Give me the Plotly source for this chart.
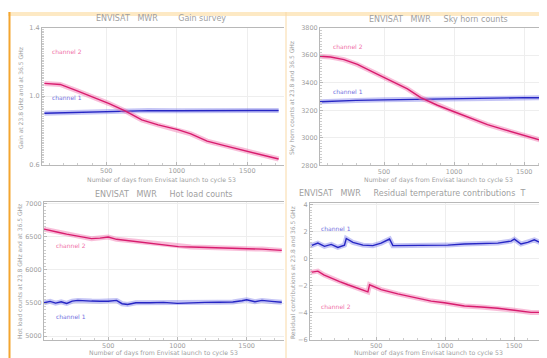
import plotly.graph_objects as go

W, H = 547, 358

# ---------------- data ----------------
# Panel 1: Gain survey
gain_days_ch2 = [62, 174, 290, 428, 521, 637, 752, 868, 1007, 1100, 1215, 1331, 1493, 1632, 1722]
gain_ch2 = [1.074, 1.068, 1.032, 0.989, 0.956, 0.912, 0.861, 0.832, 0.804, 0.779, 0.737, 0.712, 0.680, 0.651, 0.632]
gain_days_ch1 = [62, 200, 400, 600, 800, 1000, 1200, 1400, 1600, 1722]
gain_ch1 = [0.900, 0.903, 0.908, 0.913, 0.915, 0.914, 0.915, 0.915, 0.916, 0.916]

# Panel 2: Sky horn counts
sky_days_ch2 = [43, 119, 214, 310, 429, 548, 667, 762, 881, 1000, 1119, 1238, 1357, 1476, 1595, 1719]
sky_ch2 = [3592, 3587, 3568, 3533, 3474, 3415, 3356, 3292, 3237, 3190, 3143, 3096, 3060, 3025, 2989, 2954]
sky_days_ch1 = [43, 150, 300, 500, 700, 900, 1000, 1200, 1400, 1500, 1600, 1719]
sky_ch1 = [3262, 3268, 3272, 3276, 3280, 3283, 3286, 3287, 3290, 3292, 3291, 3290]

# Panel 3: Hot load counts
hot_days_ch2 = [36, 80, 138, 200, 258, 320, 379, 440, 500, 560, 621, 742, 862, 1007, 1100, 1225, 1350, 1466, 1611, 1754]
hot_ch2 = [6616, 6600, 6568, 6540, 6520, 6495, 6472, 6480, 6496, 6462, 6448, 6424, 6390, 6352, 6345, 6338, 6332, 6328, 6314, 6295]
hot_days_ch1 = [36, 80, 120, 160, 200, 240, 280, 330, 380, 440, 500, 560, 600, 640, 700, 800, 900, 1000, 1100, 1200, 1300, 1400, 1466, 1500, 1560, 1611, 1680, 1754]
hot_ch1 = [5505, 5525, 5500, 5520, 5495, 5530, 5540, 5530, 5530, 5528, 5528, 5540, 5490, 5478, 5505, 5505, 5510, 5495, 5505, 5510, 5512, 5515, 5535, 5550, 5520, 5540, 5525, 5512]

# Panel 4: Residual temperature contributions
res_days_ch2 = [24, 77, 120, 174, 235, 295, 350, 415, 440, 452, 536, 657, 778, 899, 995, 1140, 1261, 1382, 1502, 1623, 1744]
res_ch2 = [-1.02, -0.93, -1.20, -1.46, -1.70, -1.94, -2.15, -2.38, -2.47, -1.94, -2.30, -2.62, -2.91, -3.15, -3.27, -3.51, -3.59, -3.68, -3.83, -3.99, -3.99]
res_days_ch1 = [24, 77, 125, 174, 222, 270, 283, 331, 404, 476, 536, 572, 597, 621, 657, 778, 899, 1019, 1140, 1261, 1382, 1478, 1502, 1550, 1599, 1647, 1720, 1744]
res_ch1 = [0.95, 1.15, 0.91, 1.05, 0.83, 1.00, 1.49, 1.20, 1.00, 0.96, 1.15, 1.32, 1.45, 0.96, 0.96, 0.96, 1.00, 1.00, 1.08, 1.12, 1.15, 1.30, 1.44, 1.08, 1.20, 1.39, 1.05, 1.00]

x_ticks = [500, 1000, 1500]
gain_ticks = [0.6, 1.0, 1.4]
gain_tick_text = ["0.6", "1.0", "1.4"]
sky_ticks = [2800, 3000, 3200, 3400, 3600, 3800]
hot_ticks = [5000, 5500, 6000, 6500, 7000]
res_ticks = [-6, -4, -2, 0, 2, 4]

PINK, PINK_HALO = "#d81c6e", "rgba(240,110,170,0.45)"
BLUE, BLUE_HALO = "#2626c4", "rgba(110,110,230,0.40)"
GRAY = "#a0a0a0"
FONT = "DejaVu Sans"


def px(x0, x1):
    return [x0 / W, min(x1 / W, 1.0)]


def py(top, bottom):
    return [1 - bottom / H, 1 - top / H]


panels = [
    dict(xd=px(34, 276), yd=py(16, 156), xr=[45, 1760], yr=[0.6, 1.4], yt=gain_ticks, ytt=gain_tick_text,
         mirror_y=False, ch2=(gain_days_ch2, gain_ch2), ch1=(gain_days_ch1, gain_ch1)),
    dict(xd=px(312, 547), yd=py(16, 157), xr=[43, 1720], yr=[2800, 3800], yt=sky_ticks, ytt=None,
         mirror_y=False, ch2=(sky_days_ch2, sky_ch2), ch1=(sky_days_ch1, sky_ch1)),
    dict(xd=px(36, 276), yd=py(194, 335), xr=[36, 1770], yr=[4950, 7030], yt=hot_ticks, ytt=None,
         mirror_y=False, ch2=(hot_days_ch2, hot_ch2), ch1=(hot_days_ch1, hot_ch1)),
    dict(xd=px(302, 543), yd=py(195, 335), xr=[20, 1768], yr=[-6, 4.15], yt=res_ticks, ytt=None,
         mirror_y=True, ch2=(res_days_ch2, res_ch2), ch1=(res_days_ch1, res_ch1)),
]

fig = go.Figure()
layout = {}
for i, p in enumerate(panels, start=1):
    xa = "x" if i == 1 else f"x{i}"
    ya = "y" if i == 1 else f"y{i}"
    for (xs, ys), core, halo in [(p["ch1"], BLUE, BLUE_HALO), (p["ch2"], PINK, PINK_HALO)]:
        fig.add_trace(go.Scatter(x=xs, y=ys, mode="lines", line=dict(color=halo, width=5),
                                 xaxis=xa, yaxis=ya, hoverinfo="skip", showlegend=False))
        fig.add_trace(go.Scatter(x=xs, y=ys, mode="lines", line=dict(color=core, width=1.4),
                                 xaxis=xa, yaxis=ya, showlegend=False))
    axis_common = dict(showline=True, linecolor="#b8b8b8", linewidth=1, ticks="inside", ticklen=3,
                       tickcolor="#b8b8b8", showgrid=True, gridcolor="#eeeeee", gridwidth=1,
                       zeroline=False, tickfont=dict(family=FONT, size=6.5, color=GRAY))
    layout[f"xaxis{'' if i == 1 else i}"] = dict(
        domain=p["xd"], range=p["xr"], anchor=ya, tickvals=x_ticks, mirror=True,
        minor=dict(ticks="inside", ticklen=2, dtick=100, tickcolor="#cccccc"), **axis_common)
    yax = dict(domain=p["yd"], range=p["yr"], anchor=xa, tickvals=p["yt"], mirror=p["mirror_y"],
               minor=dict(ticks="inside", ticklen=2, nticks=20, tickcolor="#cccccc"), **axis_common)
    if p["ytt"] is not None:
        yax["ticktext"] = p["ytt"]
    layout[f"yaxis{'' if i == 1 else i}"] = yax

fig.update_layout(**layout)
fig.update_layout(width=W, height=H, margin=dict(l=0, r=0, t=0, b=0),
                  paper_bgcolor="white", plot_bgcolor="white")

ann = []


def text(x, y, s, size=7.5, color=GRAY, angle=0, xanchor="center"):
    ann.append(dict(x=x / W, y=1 - y / H, xref="paper", yref="paper", text=s, showarrow=False,
                    font=dict(family=FONT, size=size, color=color), textangle=angle,
                    xanchor=xanchor, yanchor="middle"))


# titles
text(153, 7, "ENVISAT   MWR        Gain survey", 8)
text(430, 8, "ENVISAT   MWR     Sky horn counts", 8)
text(156, 187, "ENVISAT   MWR     Hot load counts", 8)
text(289, 186, "ENVISAT   MWR     Residual temperature contributions  T", 8, xanchor="left")
# x titles
xt = "Number of days from Envisat launch to cycle 53"
text(153, 172, xt, 6.2)
text(430, 172, xt, 6.2)
text(155, 349, xt, 6.2)
text(420, 349, xt, 6.2)
# y titles
text(12, 88, "Gain at 23.8 GHz and at 36.5 GHz", 6, angle=-90)
text(284, 88, "Sky horn counts at 23.8 and 36.5 GHz", 6, angle=-90)
text(11, 266, "Hot load counts at 23.8 GHz and at 36.5 GHz", 6, angle=-90)
text(284, 266, "Residual contributions at 23.8 and 36.5 GHz", 6, angle=-90)
# channel labels
text(42, 40, "channel 2", 6, "#f070a8", xanchor="left")
text(42, 87, "channel 1", 6, "#7070e0", xanchor="left")
text(323, 35, "channel 2", 6, "#f070a8", xanchor="left")
text(323, 81, "channel 1", 6, "#7070e0", xanchor="left")
text(46, 239, "channel 2", 6, "#f070a8", xanchor="left")
text(46, 311, "channel 1", 6, "#7070e0", xanchor="left")
text(311, 221, "channel 1", 6, "#7070e0", xanchor="left")
text(311, 301, "channel 2", 6, "#f070a8", xanchor="left")

fig.update_layout(annotations=ann)

# decorative page border
fig.update_layout(shapes=[
    dict(type="rect", xref="paper", yref="paper", x0=0, x1=1, y0=1 - 4 / H, y1=1,
         fillcolor="#fde9c4", line_width=0, layer="below"),
    dict(type="line", xref="paper", yref="paper", x0=1.5 / W, x1=1.5 / W, y0=0, y1=1,
         line=dict(color="#f3a530", width=2)),
    dict(type="line", xref="paper", yref="paper", x0=278 / W, x1=278 / W, y0=0, y1=1,
         line=dict(color="#f9d9a6", width=1)),
])

fig.write_html("out.html")
